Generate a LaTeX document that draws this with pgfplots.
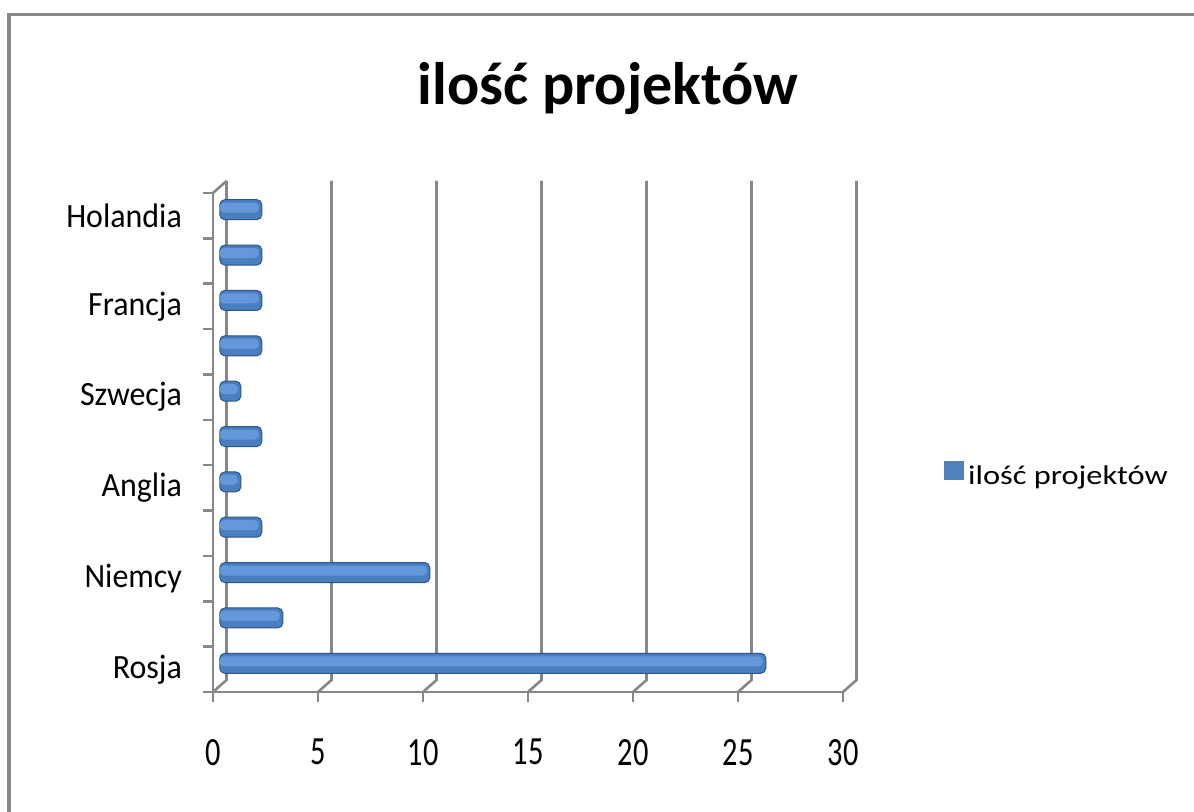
\documentclass[border=0pt]{standalone}
\usepackage{pgfplots}
\pgfplotsset{compat=1.18}
\usepackage{fontspec}
\setmainfont{Carlito}
\newfontfamily\tickfont{Carlito}[FakeStretch=0.76]
\newfontfamily\labfont{Carlito}[FakeStretch=0.94]
\newfontfamily\legfont{Carlito}[FakeStretch=1.2]
\definecolor{gridgray}{HTML}{878787}
\definecolor{barmid}{HTML}{4A7EBF}
\definecolor{barlight}{HTML}{6399DA}
\definecolor{bardark}{HTML}{2A568C}
\definecolor{legblue}{HTML}{4F81BD}
\begin{document}
\begin{tikzpicture}
\path[use as bounding box] (0,0) rectangle (597pt,-406pt);
\fill[white] (0,0) rectangle (597pt,-406pt);
\draw[gridgray, line width=1.6pt] (4.5pt,-420pt) -- (4.5pt,-7.2pt) -- (610pt,-7.2pt);
\node[anchor=base, font=\bfseries\fontsize{30}{36}\selectfont] at (304pt,-52.5pt) {ilość projektów};
\begin{axis}[
  at={(106.5pt,-346pt)}, anchor=south west,
  scale only axis, width=315pt, height=249.5pt,
  xmin=0, xmax=30, ymin=0.5, ymax=11.5,
  clip=false,
  axis x line*=bottom, axis y line*=left,
  axis line style={gridgray, line width=1.3pt, -},
  xtick={0,5,10,15,20,25,30},
  ytick={0.5,1.5,2.5,3.5,4.5,5.5,6.5,7.5,8.5,9.5,10.5,11.5},
  yticklabels={},
  extra y ticks={1,3,5,7,9,11},
  extra y tick labels={Rosja,Niemcy,Anglia,Szwecja,Francja,Holandia},
  extra y tick style={major tick length=0pt, yticklabel style={anchor=east, xshift=-12pt}},
  tick style={gridgray, line width=1.3pt},
  tick align=outside,
  major tick length=5pt,
  /pgf/number format/assume math mode=true,
  xticklabel style={font=\tickfont\fontsize{20}{24}\selectfont, yshift=-15pt},
  yticklabel style={font=\labfont\fontsize{17}{20}\selectfont},
  legend style={at={(1.16,0.433)}, anchor=west, draw=none, fill=none, inner sep=0pt,
    font=\legfont\fontsize{13.5}{16}\selectfont},
  legend image code/.code={\fill[legblue, sharp corners, draw=none] (-3pt,-4.75pt) rectangle (7pt,4.75pt);},
]
\pgfplotsinvokeforeach{0,5,10,15,20,25,30}{
  \draw[gridgray, line width=1.3pt] ([xshift=6.75pt,yshift=6pt]axis cs:#1,11.5) -- ([xshift=6.75pt,yshift=6pt]axis cs:#1,0.5) -- (axis cs:#1,0.5);
}
\draw[gridgray, line width=1.3pt] (axis cs:0,11.5) -- ([xshift=6.75pt,yshift=6pt]axis cs:0,11.5);
\addplot[xbar, bar width=10pt, draw=bardark, line width=0.5pt, fill=barmid,
  rounded corners=2.5pt, xshift=3.4pt, yshift=3pt]
  coordinates {(26,1) (3,2) (10,3) (2,4) (1,5) (2,6) (1,7) (2,8) (2,9) (2,10) (2,11)};
\addlegendentry{ilość projektów}
\addplot[xbar, bar width=5pt, draw=none, fill=barlight, forget plot,
  rounded corners=2pt, xshift=3.4pt, yshift=4pt]
  coordinates {(25.85,1) (2.85,2) (9.85,3) (1.85,4) (0.85,5) (1.85,6) (0.85,7) (1.85,8) (1.85,9) (1.85,10) (1.85,11)};
\end{axis}
\end{tikzpicture}
\end{document}
